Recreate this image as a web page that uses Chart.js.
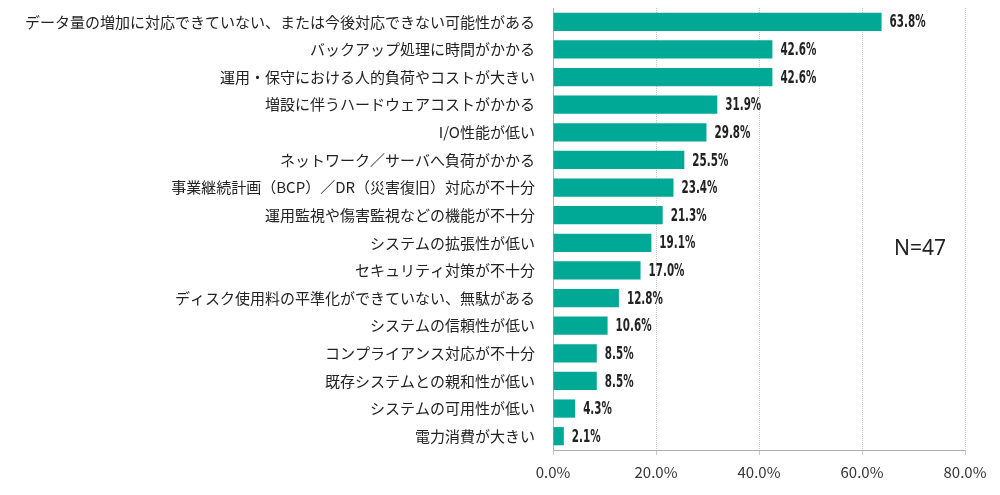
<!DOCTYPE html>
<html>
<head>
<meta charset="utf-8">
<script src="https://cdn.jsdelivr.net/npm/chart.js@4"></script>
<style>
  html, body { margin: 0; padding: 0; background: #fff; }
  #wrap { width: 1000px; height: 495px; position: relative; }
</style>
</head>
<body>
<div id="wrap"><canvas id="chart"></canvas></div>
<script>
const CATEGORIES = [
    'データ量の増加に対応できていない、または今後対応できない可能性がある',
    'バックアップ処理に時間がかかる',
    '運用・保守における人的負荷やコストが大きい',
    '増設に伴うハードウェアコストがかかる',
    'I/O性能が低い',
    'ネットワーク／サーバへ負荷がかかる',
    '事業継続計画（BCP）／DR（災害復旧）対応が不十分',
    '運用監視や傷害監視などの機能が不十分',
    'システムの拡張性が低い',
    'セキュリティ対策が不十分',
    'ディスク使用料の平準化ができていない、無駄がある',
    'システムの信頼性が低い',
    'コンプライアンス対応が不十分',
    '既存システムとの親和性が低い',
    'システムの可用性が低い',
    '電力消費が大きい',
];
const VALUES = [63.8, 42.6, 42.6, 31.9, 29.8, 25.5, 23.4, 21.3, 19.1, 17.0, 12.8, 10.6, 8.5, 8.5, 4.3, 2.1];
const X_TICKS = [0, 20, 40, 60, 80];
const SAMPLE_NOTE = 'N=47';

const BAR_COLOR = '#00a896';
const JP_FONT = '"Noto Sans CJK JP", "Noto Sans", sans-serif';

// value labels at the end of each bar, plus the N= note
const valueLabels = {
    id: 'valueLabels',
    afterDatasetsDraw(chart) {
        const ctx = chart.ctx;
        const meta = chart.getDatasetMeta(0);
        ctx.save();
        ctx.fillStyle = '#222';
        ctx.font = 'bold 18px "DejaVu Sans Condensed", "Liberation Sans Narrow", sans-serif';
        ctx.textBaseline = 'middle';
        ctx.textAlign = 'left';
        meta.data.forEach((bar, i) => {
            ctx.save();
            ctx.translate(bar.x + 8, bar.y + 1);
            ctx.scale(0.64, 1);
            ctx.fillText(VALUES[i].toFixed(1) + '%', 0, 0);
            ctx.restore();
        });
        ctx.font = '21px "Noto Sans", sans-serif';
        ctx.fillText(SAMPLE_NOTE, 894, 249);
        ctx.restore();
    },
};

new Chart(document.getElementById('chart'), {
    type: 'bar',
    data: {
        labels: CATEGORIES,
        datasets: [{
            data: VALUES,
            backgroundColor: BAR_COLOR,
            borderWidth: 0,
            barPercentage: 0.66,
            categoryPercentage: 1,
        }],
    },
    options: {
        responsive: true,
        maintainAspectRatio: false,
        animation: false,
        indexAxis: 'y',
        layout: { padding: { top: 8, right: 35, left: 0, bottom: 0 } },
        scales: {
            x: {
                min: 0, max: 80,
                afterBuildTicks: scale => { scale.ticks = X_TICKS.map(v => ({ value: v })); },
                ticks: {
                    color: '#333',
                    font: { family: JP_FONT, size: 15 },
                    padding: 8,
                    callback: v => Number(v).toFixed(1) + '%',
                },
                grid: { color: '#c8c8c8', tickLength: 5, tickColor: '#c8c8c8' },
                border: { color: '#b0b0b0', dash: [1, 1] },
                afterFit: scale => { scale.height = 45; },
            },
            y: {
                ticks: {
                    color: '#222',
                    font: { family: JP_FONT, size: 15 },
                    padding: 10,
                    autoSkip: false,
                },
                grid: { display: false },
                border: { color: '#b0b0b0' },
                afterFit: scale => {
                    scale.width = 553;
                    scale.paddingTop = 0;
                    scale.paddingBottom = 0;
                },
            },
        },
        plugins: {
            legend: { display: false },
            tooltip: { enabled: false },
        },
    },
    plugins: [valueLabels],
});
</script>
</body>
</html>
